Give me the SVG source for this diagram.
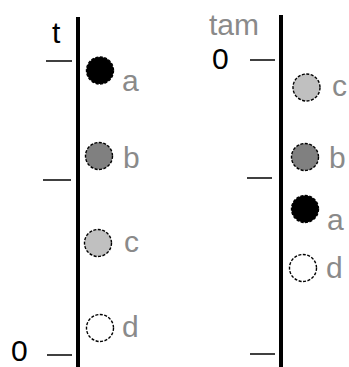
<svg xmlns="http://www.w3.org/2000/svg" width="349" height="367" viewBox="0 0 349 367">
  <style>
    .axis { stroke: #000; stroke-width: 4; }
    .tick { stroke: #000; stroke-width: 1.5; }
    .dot { stroke: #000; stroke-width: 1.4; stroke-dasharray: 3 1.5; }
    .lbl { font-family: "Liberation Sans", Arial, sans-serif; font-size: 30px; fill: #8a8a8a; }
    .num { font-family: "Liberation Sans", Arial, sans-serif; font-size: 30px; fill: #000; }
  </style>
  <rect width="349" height="367" fill="#fff"/>

  <!-- axes and ticks -->
  <g id="connectors">
    <line class="axis" x1="78" y1="17" x2="78" y2="367"/>
    <line class="tick" x1="46" y1="61" x2="72" y2="61"/>
    <line class="tick" x1="43" y1="180" x2="71" y2="180"/>
    <line class="tick" x1="47" y1="355" x2="72" y2="355"/>
    <line class="axis" x1="281" y1="15" x2="281" y2="367"/>
    <line class="tick" x1="250" y1="60" x2="275" y2="60"/>
    <line class="tick" x1="247" y1="178" x2="272" y2="178"/>
    <line class="tick" x1="250" y1="354" x2="275" y2="354"/>
  </g>

  <text class="num" x="52" y="43">t</text>
  <text class="num" x="11" y="361" font-size="28">0</text>
  <text class="lbl" x="209" y="35">tam</text>
  <text class="num" x="212" y="69">0</text>

  <!-- left column -->
  <g id="left-a"><circle class="dot" cx="100" cy="70.5" r="13.5" fill="#000"/><text class="lbl" x="122" y="91">a</text></g>
  <g id="left-b"><circle class="dot" cx="99" cy="156" r="13.5" fill="#808080"/><text class="lbl" x="123" y="168">b</text></g>
  <g id="left-c"><circle class="dot" cx="98" cy="243" r="13.5" fill="#c0c0c0"/><text class="lbl" x="124" y="252">c</text></g>
  <g id="left-d"><circle class="dot" cx="100" cy="328" r="13.5" fill="#fff"/><text class="lbl" x="122" y="337">d</text></g>

  <!-- right column -->
  <g id="right-c"><circle class="dot" cx="306.5" cy="87.5" r="13.5" fill="#c0c0c0"/><text class="lbl" x="332" y="96">c</text></g>
  <g id="right-b"><circle class="dot" cx="305" cy="157" r="13.5" fill="#808080"/><text class="lbl" x="329" y="168">b</text></g>
  <g id="right-a"><circle class="dot" cx="305" cy="209" r="13.5" fill="#000"/><text class="lbl" x="327" y="230">a</text></g>
  <g id="right-d"><circle class="dot" cx="303" cy="268" r="13.5" fill="#fff"/><text class="lbl" x="326" y="278">d</text></g>
</svg>
